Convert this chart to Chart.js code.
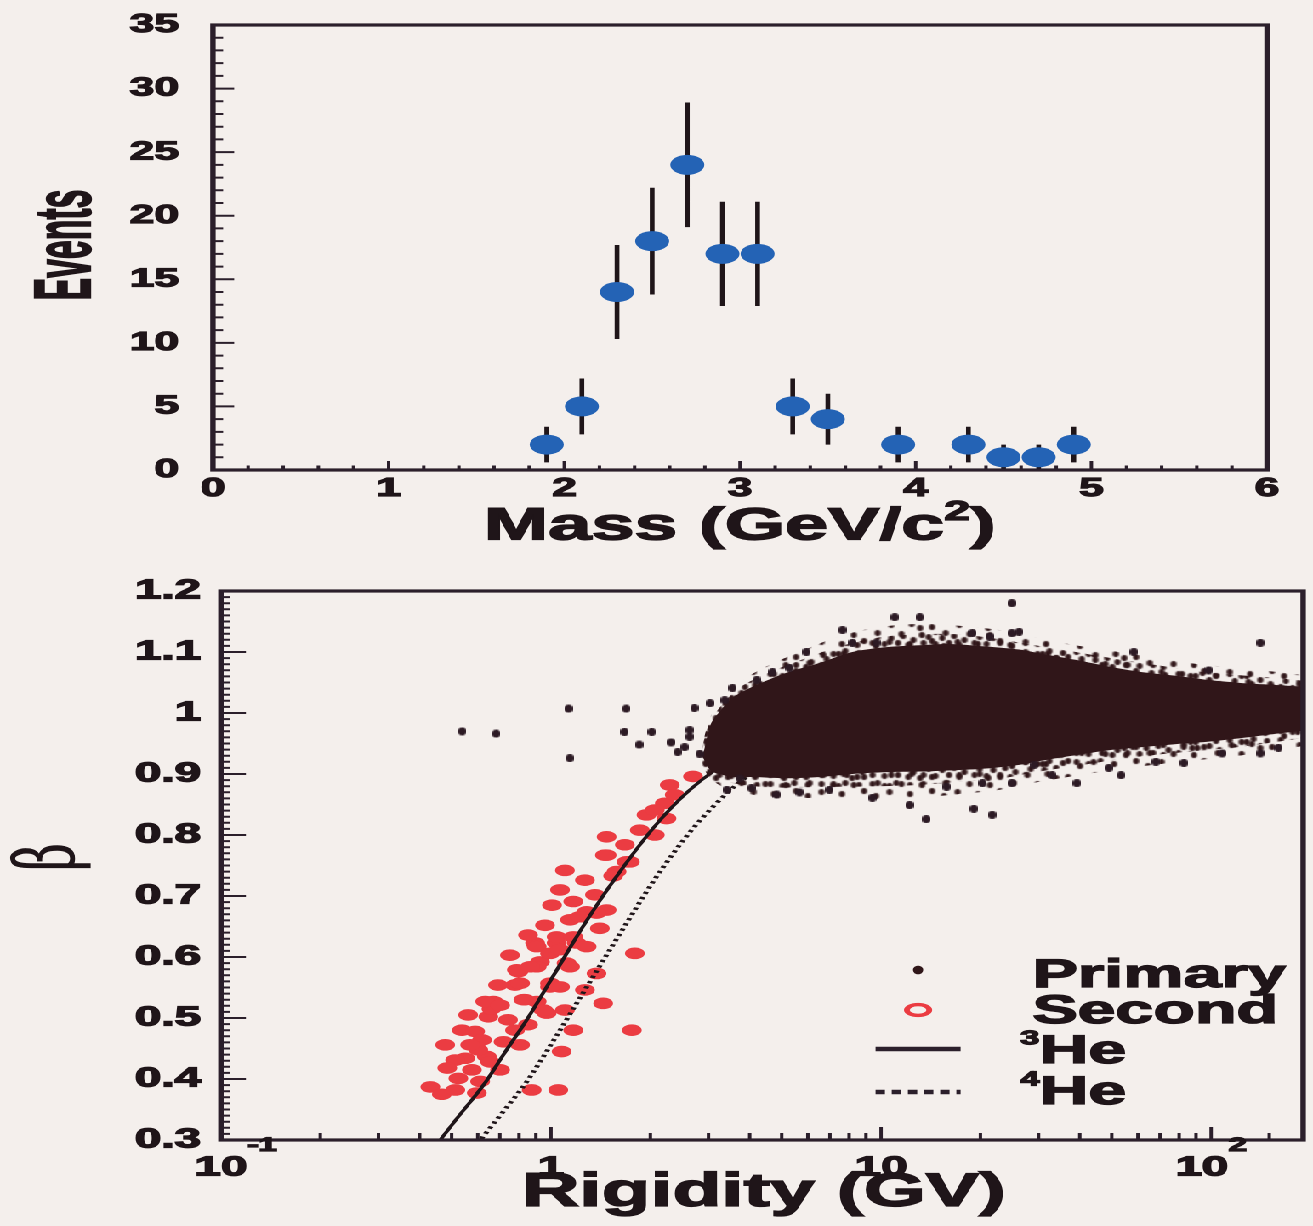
<!DOCTYPE html>
<html>
<head>
<meta charset="utf-8">
<script src="https://cdn.jsdelivr.net/npm/chart.js@4.4.1/dist/chart.umd.min.js"></script>
<style>
  html, body { margin: 0; padding: 0; background: #f4efec; overflow: hidden; }
  /* plots are laid out in a narrow frame and widened, like the original print */
  #page { position: absolute; left: 0; top: 0; width: 772px; height: 1226px;
          transform: scaleX(1.70078); transform-origin: 0 0; }
  #massChart { position: absolute; left: 0; top: 0; }
  #rigidityChart { position: absolute; left: 0; top: 560px; }
</style>
</head>
<body>
<div id="page">
  <canvas id="massChart" width="772" height="560"></canvas>
  <canvas id="rigidityChart" width="772" height="666"></canvas>
</div>
<script>
// ---- Mass spectrum ----
const massBins = [1.9, 2.1, 2.3, 2.5, 2.7, 2.9, 3.1, 3.3, 3.5, 3.9, 4.3, 4.5, 4.7, 4.9];
const massEvents = [2, 5, 14, 18, 24, 17, 17, 5, 4, 2, 2, 1, 1, 2];
const massErrors = [1.4, 2.2, 3.7, 4.2, 4.9, 4.1, 4.1, 2.2, 2.0, 1.4, 1.4, 1.0, 1.0, 1.4];
const massTicks = [0, 1, 2, 3, 4, 5, 6];
const eventTicks = [0, 5, 10, 15, 20, 25, 30, 35];

// ---- Beta vs rigidity ----
const rigidityTicks = [0.1, 1, 10, 100];
const rigidityTickLabels = ['10⁻¹', '1', '10', '10²'];
const betaTicks = [0.3, 0.4, 0.5, 0.6, 0.7, 0.8, 0.9, 1.0, 1.1, 1.2];
const betaTickLabels = ['0.3', '0.4', '0.5', '0.6', '0.7', '0.8', '0.9', '1', '1.1', '1.2'];

// outline of the dense primary band
const coreRigidity = [2.88, 3.05, 3.24, 3.55, 4.08, 5.17, 6.51, 8.19, 10.4, 13.1, 16.4, 20.8, 26.2, 30.7, 39, 49, 61.7, 78.2, 98.4, 124, 157, 190];
const coreBetaHigh = [0.928, 0.982, 1.002, 1.025, 1.043, 1.066, 1.082, 1.100, 1.108, 1.111, 1.113, 1.109, 1.104, 1.097, 1.087, 1.076, 1.067, 1.061, 1.054, 1.049, 1.046, 1.043];
const coreBetaLow = [0.928, 0.905, 0.900, 0.895, 0.895, 0.893, 0.895, 0.900, 0.903, 0.904, 0.906, 0.909, 0.915, 0.922, 0.931, 0.939, 0.944, 0.949, 0.953, 0.959, 0.966, 0.971];

// speckled fringe around the band: close (dense) and far (sparse)
const haloRigidity = [2.82, 3.03, 3.29, 3.73, 4.60, 5.66, 7.48, 9.88, 13.1, 17.2, 22.8, 30.1, 39.8, 52.5, 69.4, 91.7, 121, 160, 190];
const nearBetaHigh = [0.928, 0.986, 1.013, 1.042, 1.067, 1.086, 1.109, 1.124, 1.129, 1.129, 1.121, 1.110, 1.099, 1.088, 1.078, 1.068, 1.062, 1.057, 1.053];
const nearBetaLow = [0.926, 0.900, 0.890, 0.883, 0.878, 0.878, 0.879, 0.880, 0.882, 0.887, 0.892, 0.904, 0.914, 0.924, 0.932, 0.938, 0.944, 0.953, 0.959];
const farBetaHigh = [0.928, 0.992, 1.021, 1.051, 1.079, 1.100, 1.126, 1.141, 1.146, 1.143, 1.136, 1.123, 1.110, 1.100, 1.090, 1.080, 1.074, 1.067, 1.062];
const farBetaLow = [0.923, 0.893, 0.880, 0.870, 0.862, 0.861, 0.859, 0.857, 0.861, 0.867, 0.874, 0.887, 0.898, 0.908, 0.916, 0.923, 0.930, 0.939, 0.946];

// primary events outside the band
const primaryRigidity = [0.538, 0.682, 1.13, 1.14, 1.69, 1.67, 1.85, 2.02, 2.31, 2.42,
  2.54, 2.63, 2.72, 2.82, 3.03, 3.36, 3.55, 2.63, 4.20, 4.69,
  5.28, 5.94, 7.64, 8.19, 9.68, 11.0, 13.1, 18.9, 21.3, 24.9,
  24.9, 3.41, 3.73, 4.05, 4.83, 5.66, 6.98, 9.41, 12.2, 13.7,
  15.8, 19.1, 20.3, 21.7, 26.2, 58.3, 98.4, 141, 29.1, 33.0,
  39.2, 49.0, 53.3, 68.0, 82.7, 108, 141, 160, 24.9];
const primaryBeta = [0.970, 0.966, 1.007, 0.926, 1.007, 0.969, 0.948, 0.969, 0.952, 0.936,
  0.944, 0.972, 1.008, 0.933, 1.016, 1.021, 1.041, 0.961, 1.054, 1.067,
  1.074, 1.100, 1.136, 1.115, 1.115, 1.157, 1.157, 1.131, 1.125, 1.180,
  1.131, 0.874, 0.893, 0.877, 0.866, 0.870, 0.874, 0.861, 0.849, 0.826,
  0.879, 0.843, 0.885, 0.833, 1.133, 1.100, 1.070, 1.115, 0.915, 0.898,
  0.885, 0.910, 0.898, 0.920, 0.918, 0.934, 0.934, 0.943, 0.885];

// secondary events
const secondRigidity = [0.431, 0.467, 0.537, 0.589, 0.550, 0.576, 0.610, 0.524, 0.596, 0.669,
  0.646, 0.701, 0.718, 0.778, 0.796, 0.778, 0.834, 0.895, 0.926, 1.04,
  0.993, 0.905, 1.077, 0.874, 1.052, 1.168, 0.970, 1.115, 0.639, 1.102,
  1.474, 1.58, 1.694, 1.168, 1.142, 1.282, 1.474, 1.406, 1.04, 0.905,
  1.196, 0.993, 1.282, 0.788, 0.905, 1.142, 1.374, 0.806, 1.065, 0.660,
  0.825, 0.948, 1.439, 1.795, 0.993, 2.693, 2.29, 2.212, 1.947, 2.238,
  2.063, 1.474, 1.457, 1.734, 1.543, 1.224, 1.374, 1.758, 0.632, 0.701,
  0.864, 1.065, 1.168, 0.5125, 0.478, 0.561, 0.602,
  0.618, 0.654, 0.513, 0.485, 0.569, 0.741, 0.852, 0.691, 0.751, 0.852,
  0.959, 1.007, 1.065, 1.267, 1.359, 1.674, 1.858, 2.063, 2.371, 0.806,
  1.102, 1.267];
const secondBeta = [0.387, 0.375, 0.480, 0.478, 0.434, 0.415, 0.396, 0.401, 0.377, 0.527,
  0.502, 0.415, 0.461, 0.480, 0.576, 0.554, 0.530, 0.623, 0.592, 0.623,
  0.557, 0.527, 0.445, 0.382, 0.382, 0.480, 0.508, 0.590, 0.437, 0.742,
  0.767, 0.740, 0.756, 0.691, 0.661, 0.674, 0.677, 0.647, 0.633, 0.617,
  0.623, 0.606, 0.617, 0.579, 0.584, 0.584, 0.573, 0.557, 0.551, 0.515,
  0.530, 0.513, 0.524, 0.606, 0.551, 0.896, 0.882, 0.852, 0.833, 0.827,
  0.800, 0.797, 0.767, 0.756, 0.733, 0.666, 0.672, 0.480, 0.527, 0.521,
  0.584, 0.612, 0.633, 0.431, 0.456, 0.505, 0.448,
  0.464, 0.428, 0.382, 0.418, 0.456, 0.497, 0.489, 0.554, 0.603, 0.636,
  0.652, 0.685, 0.710, 0.726, 0.702, 0.784, 0.808, 0.841, 0.866, 0.456,
  0.513, 0.546];

// expected beta for 3He and 4He
const he3Rigidity = [0.46, 0.52, 0.63, 0.73, 0.84, 1.045, 1.25, 1.57, 2.09, 2.61, 3.13, 3.66];
const he3Beta = [0.299, 0.336, 0.393, 0.446, 0.495, 0.580, 0.650, 0.730, 0.818, 0.872, 0.906, 0.928];
const he4Rigidity = [0.615, 0.73, 0.84, 1.045, 1.25, 1.57, 2.09, 2.61, 3.13, 3.66, 4.18, 4.7];
const he4Beta = [0.302, 0.352, 0.394, 0.473, 0.541, 0.627, 0.732, 0.802, 0.849, 0.883, 0.906, 0.924];

const legendLabels = ['Primary', 'Second', '³He', '⁴He'];

const FONT = '"Liberation Sans", Arial, Helvetica, sans-serif';
const INK = '#1f1519';
const FRAME = '#2b1f2b';
const BLUE = '#2463b5';
const RED = '#eb3c42';
const CLOUD = '#301619';

Chart.defaults.font.family = FONT;
Chart.defaults.font.weight = 'bold';
Chart.defaults.color = INK;

const SUP = { '⁻': '-', '¹': '1', '²': '2', '³': '3', '⁴': '4' };

// text with raised superscript runs, vertically centred on y
function drawRich(ctx, str, x, y, o) {
  const family = o.family || FONT;
  const weight = o.weight || 'bold';
  const runs = [];
  for (const ch of str) {
    const sup = ch in SUP;
    const c = sup ? SUP[ch] : ch;
    const last = runs[runs.length - 1];
    if (last && last.sup === sup) last.text += c;
    else runs.push({ sup, text: c });
  }
  let total = 0;
  runs.forEach(r => {
    r.size = r.sup ? o.size * (o.supScale || 0.6) : o.size;
    ctx.font = `${weight} ${r.size}px ${family}`;
    r.w = ctx.measureText(r.text).width;
    total += r.w;
  });
  let cx = x;
  if (o.align === 'center') cx = x - total / 2;
  else if (o.align === 'right') cx = x - total;
  else if (o.align === 'base') cx = x - runs[0].w / 2; // centre the first run only
  ctx.textAlign = 'left';
  ctx.textBaseline = 'middle';
  runs.forEach(r => {
    ctx.font = `${weight} ${r.size}px ${family}`;
    const ry = r.sup ? y - o.size * (o.raise || 0.35) : y;
    if (o.stroke) ctx.strokeText(r.text, cx, ry);
    ctx.fillText(r.text, cx, ry);
    cx += r.w;
  });
}

const framePlugin = {
  id: 'frame',
  afterDatasetsDraw(chart) {
    const { ctx, chartArea: a } = chart;
    ctx.save();
    ctx.strokeStyle = FRAME;
    ctx.lineWidth = 3.2;
    ctx.strokeRect(a.left, a.top, a.right - a.left, a.bottom - a.top);
    ctx.restore();
  }
};

// tick marks pointing into the plot area
function innerTicks(cfg) {
  return {
    id: 'innerTicks',
    afterDatasetsDraw(chart) {
      const { ctx, chartArea: a, scales } = chart;
      ctx.save();
      ctx.strokeStyle = FRAME;
      ctx.lineWidth = 2;
      ctx.beginPath();
      const addX = (vals, len) => vals.forEach(v => {
        const px = scales.x.getPixelForValue(v);
        if (px < a.left - 0.5 || px > a.right + 0.5) return;
        ctx.moveTo(px, a.bottom);
        ctx.lineTo(px, a.bottom - len);
      });
      const addY = (vals, len) => vals.forEach(v => {
        const py = scales.y.getPixelForValue(v);
        ctx.moveTo(a.left, py);
        ctx.lineTo(a.left + len, py);
      });
      addX(cfg.xMinor, cfg.xMinorLen);
      addX(cfg.xMajor, cfg.xMajorLen);
      addY(cfg.yMinor, cfg.yMinorLen);
      addY(cfg.yMajor, cfg.yMajorLen);
      ctx.stroke();
      ctx.restore();
    }
  };
}

function axisTitles(items) {
  return {
    id: 'axisTitles',
    afterDraw(chart) {
      const { ctx } = chart;
      items.forEach(t => {
        ctx.save();
        ctx.translate(t.x, t.y);
        if (t.rotate) ctx.rotate(t.rotate * Math.PI / 180);
        if (t.squeeze) ctx.scale(t.squeeze, 1);
        ctx.fillStyle = INK;
        ctx.strokeStyle = INK;
        ctx.lineWidth = t.stroke || 0;
        drawRich(ctx, t.text, 0, 0, t);
        ctx.restore();
      });
    }
  };
}

const errorBars = {
  id: 'errorBars',
  beforeDatasetsDraw(chart) {
    const { ctx, scales: { x, y } } = chart;
    ctx.save();
    ctx.strokeStyle = INK;
    ctx.lineWidth = 2.8;
    ctx.beginPath();
    massBins.forEach((m, i) => {
      const px = x.getPixelForValue(m);
      ctx.moveTo(px, y.getPixelForValue(Math.max(0, massEvents[i] - massErrors[i])));
      ctx.lineTo(px, y.getPixelForValue(massEvents[i] + massErrors[i]));
    });
    ctx.stroke();
    ctx.restore();
  }
};

function range(from, to, step) {
  const out = [];
  for (let v = from; v <= to + step / 2; v += step) out.push(+v.toFixed(4));
  return out;
}

const tickFont = size => ({ size, weight: 'bold', family: FONT });

// fixed axis box; the label gap must not push the plot area down
const fixWidth = w => s => { s.width = w; s.paddingTop = 0; s.paddingBottom = 0; };

// ---- top panel ----
new Chart(document.getElementById('massChart'), {
  type: 'scatter',
  data: {
    datasets: [{
      label: 'Events',
      data: massBins.map((m, i) => ({ x: m, y: massEvents[i] })),
      backgroundColor: BLUE,
      borderWidth: 0,
      pointRadius: 10,
      pointHoverRadius: 10
    }]
  },
  options: {
    responsive: false,
    animation: false,
    devicePixelRatio: 2,
    layout: { padding: { top: 25, right: 27, left: 0, bottom: 0 } },
    plugins: { legend: { display: false }, tooltip: { enabled: false } },
    scales: {
      x: {
        type: 'linear', min: 0, max: 6,
        afterBuildTicks: s => { s.ticks = massTicks.map(v => ({ value: v })); },
        afterFit: s => { s.height = 90; },
        grid: { display: false, drawTicks: false },
        border: { display: false },
        ticks: { padding: 3, font: tickFont(26), color: INK, textStrokeColor: INK, textStrokeWidth: 1.2,
                 callback: (v, i) => String(massTicks[i]) }
      },
      y: {
        type: 'linear', min: 0, max: 35,
        afterBuildTicks: s => { s.ticks = eventTicks.map(v => ({ value: v })); },
        afterFit: fixWidth(125.2),
        grid: { display: false, drawTicks: false },
        border: { display: false },
        ticks: { padding: 20, font: tickFont(26), color: INK, textStrokeColor: INK, textStrokeWidth: 1.2,
                 callback: (v, i) => String(eventTicks[i]) }
      }
    }
  },
  plugins: [
    errorBars, framePlugin,
    innerTicks({
      xMajor: massTicks, xMinor: range(0, 6, 0.2), xMajorLen: 9, xMinorLen: 4.5,
      yMajor: eventTicks, yMinor: range(0, 35, 1), yMajorLen: 12.5, yMinorLen: 6
    }),
    axisTitles([
      { text: 'Events', x: 40, y: 245, rotate: -90, squeeze: 0.72, size: 47, align: 'center', stroke: 1.2 },
      { text: 'Mass (GeV/c²)', x: 435, y: 527, size: 45.5, align: 'center', stroke: 1.3, supScale: 0.6, raise: 0.32 }
    ])
  ]
});

// ---- bottom panel ----
function ellipseDot(w, h, color) {
  const c = document.createElement('canvas');
  c.width = w;
  c.height = h;
  const g = c.getContext('2d');
  g.fillStyle = color;
  g.beginPath();
  g.ellipse(w / 2, h / 2, w / 2, h / 2, 0, 0, Math.PI * 2);
  g.fill();
  return c;
}

// repeating speckle tiles for the fringe of the primary band
const sparseSpots = [[4, 5], [16, 4], [28, 7], [36, 13], [10, 14], [22, 15], [3, 22], [15, 24], [28, 21], [35, 26], [21, 8]];
const denseSpots = [[3, 4], [10, 6], [17, 3], [25, 5], [6, 11], [14, 12], [21, 10], [27, 14], [3, 17], [10, 18], [18, 17], [24, 19], [13, 6]];
function speckle(spots, w, h, color) {
  const c = document.createElement('canvas');
  c.width = w;
  c.height = h;
  const g = c.getContext('2d');
  g.fillStyle = color;
  spots.forEach(([x, y]) => {
    g.beginPath();
    g.ellipse(x, y, 1.8, 2.9, 0, 0, Math.PI * 2);
    g.fill();
  });
  return g.createPattern(c, 'repeat');
}

const decadeLabels = {
  id: 'decadeLabels',
  afterDraw(chart) {
    const { ctx, chartArea: a, scales: { x } } = chart;
    ctx.save();
    ctx.fillStyle = INK;
    ctx.strokeStyle = INK;
    ctx.lineWidth = 1.2;
    rigidityTicks.forEach((v, i) => {
      drawRich(ctx, rigidityTickLabels[i], x.getPixelForValue(v), a.bottom + 28,
        { size: 28, align: i === 0 ? 'base' : 'center', stroke: true, supScale: 0.7, raise: 0.8 });
    });
    ctx.restore();
  }
};

const betaLegend = {
  id: 'betaLegend',
  afterDraw(chart) {
    const { ctx } = chart;
    const symX = 539.8, half = 25, textX = 600;
    const rows = [416, 452, 492, 533];
    ctx.save();
    // Primary: small dot
    ctx.fillStyle = CLOUD;
    ctx.beginPath();
    ctx.ellipse(symX, rows[0] - 6, 3, 4.4, 0, 0, Math.PI * 2);
    ctx.fill();
    // Second: open marker
    ctx.strokeStyle = RED;
    ctx.lineWidth = 3.4;
    ctx.beginPath();
    ctx.ellipse(symX, rows[1] - 2, 6.6, 5.4, 0, 0, Math.PI * 2);
    ctx.stroke();
    // 3He solid, 4He dotted
    ctx.strokeStyle = FRAME;
    ctx.lineWidth = 4.5;
    ctx.beginPath();
    ctx.moveTo(symX - half, rows[2] - 3);
    ctx.lineTo(symX + half, rows[2] - 3);
    ctx.stroke();
    ctx.setLineDash([5.5, 4]);
    ctx.beginPath();
    ctx.moveTo(symX - half, rows[3] - 1);
    ctx.lineTo(symX + half, rows[3] - 1);
    ctx.stroke();
    ctx.setLineDash([]);
    ctx.fillStyle = INK;
    ctx.strokeStyle = INK;
    ctx.lineWidth = 1.3;
    legendLabels.forEach((label, i) => {
      drawRich(ctx, label, i < 2 ? textX + 7 : textX, rows[i],
        { size: 40, align: 'left', stroke: true, supScale: 0.5, raise: 0.32 });
    });
    ctx.restore();
  }
};

const bandLine = (rig, beta, fill, bg) => ({
  type: 'line',
  data: rig.map((r, i) => ({ x: r, y: beta[i] })),
  borderWidth: 0,
  borderColor: 'rgba(0,0,0,0)',
  backgroundColor: bg,
  pointRadius: 0,
  tension: 0.3,
  fill
});

new Chart(document.getElementById('rigidityChart'), {
  type: 'scatter',
  data: {
    datasets: [
      {
        label: 'Primary',
        data: primaryRigidity.map((r, i) => ({ x: r, y: primaryBeta[i] })),
        pointStyle: ellipseDot(5, 8, '#2c1a24'),
        pointRadius: 3
      },
      { label: 'Primary core', ...bandLine(coreRigidity, coreBetaHigh, '+1', CLOUD) },
      { label: 'Primary core low', ...bandLine(coreRigidity, coreBetaLow, false, CLOUD) },
      { label: 'Primary near fringe', ...bandLine(haloRigidity, nearBetaHigh, '+1', speckle(denseSpots, 30, 22, CLOUD)) },
      { label: 'Primary near fringe low', ...bandLine(haloRigidity, nearBetaLow, false, CLOUD) },
      { label: 'Primary far fringe', ...bandLine(haloRigidity, farBetaHigh, '+1', speckle(sparseSpots, 40, 30, CLOUD)) },
      { label: 'Primary far fringe low', ...bandLine(haloRigidity, farBetaLow, false, CLOUD) },
      {
        type: 'line',
        label: '3He',
        data: he3Rigidity.map((r, i) => ({ x: r, y: he3Beta[i] })),
        borderColor: INK,
        borderWidth: 2.4,
        pointRadius: 0,
        cubicInterpolationMode: 'monotone',
        fill: false
      },
      {
        type: 'line',
        label: '4He',
        data: he4Rigidity.map((r, i) => ({ x: r, y: he4Beta[i] })),
        borderColor: INK,
        borderWidth: 3,
        borderDash: [2.4, 3.2],
        pointRadius: 0,
        cubicInterpolationMode: 'monotone',
        fill: false
      },
      {
        label: 'Second',
        data: secondRigidity.map((r, i) => ({ x: r, y: secondBeta[i] })),
        backgroundColor: RED,
        borderWidth: 0,
        pointRadius: 5.8,
        pointHoverRadius: 5.8
      }
    ]
  },
  options: {
    responsive: false,
    animation: false,
    devicePixelRatio: 2,
    layout: { padding: { top: 31, right: 4.1, left: 0, bottom: 0 } },
    plugins: {
      legend: { display: false },
      tooltip: { enabled: false },
      filler: { drawTime: 'beforeDatasetDraw' }
    },
    scales: {
      x: {
        type: 'logarithmic', min: 0.1, max: 190,
        afterBuildTicks: s => { s.ticks = rigidityTicks.map(v => ({ value: v })); },
        afterFit: s => { s.height = 86; },
        grid: { display: false, drawTicks: false },
        border: { display: false },
        ticks: { display: false }
      },
      y: {
        type: 'linear', min: 0.3, max: 1.2,
        afterBuildTicks: s => { s.ticks = betaTicks.map(v => ({ value: v })); },
        afterFit: fixWidth(129.9),
        grid: { display: false, drawTicks: false },
        border: { display: false },
        ticks: { padding: 11.7, font: tickFont(28), color: INK, textStrokeColor: INK, textStrokeWidth: 1.2,
                 callback: (v, i) => betaTickLabels[i] }
      }
    }
  },
  plugins: [
    framePlugin,
    innerTicks({
      xMajor: rigidityTicks,
      xMinor: [0.2, 0.3, 0.4, 0.5, 0.6, 0.7, 0.8, 0.9, 2, 3, 4, 5, 6, 7, 8, 9,
               20, 30, 40, 50, 60, 70, 80, 90, 150],
      xMajorLen: 13, xMinorLen: 7,
      yMajor: betaTicks, yMinor: range(0.3, 1.2, 0.01), yMajorLen: 14.7, yMinorLen: 5.5
    }),
    decadeLabels,
    betaLegend,
    axisTitles([
      { text: 'β', x: 30.6, y: 297, rotate: -90, size: 48, align: 'center', weight: 'normal',
        family: '"DejaVu Serif", "Liberation Serif", serif', stroke: 0.6 },
      { text: 'Rigidity (GV)', x: 449, y: 633, size: 47, align: 'center', stroke: 1.3 }
    ])
  ]
});
</script>
</body>
</html>
